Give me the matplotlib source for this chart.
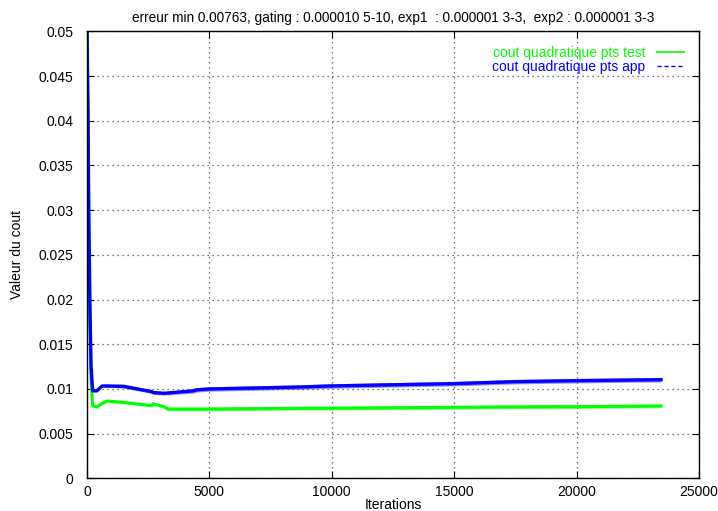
import matplotlib
matplotlib.use("Agg")
import matplotlib.pyplot as plt
from matplotlib.lines import Line2D
from matplotlib.ticker import FuncFormatter
import numpy as np

# iterations / valeurs
iters = [0, 40, 70, 120, 165, 230, 400, 620, 820, 1500, 2650, 2700, 3150, 3300,
         4370, 4450, 5000, 8700, 10000, 15000, 17500, 20000, 23450]
cout_test = [0.05, 0.040, 0.029, 0.018, 0.011, 0.0081, 0.0080, 0.0084, 0.00866, 0.0085,
             0.00813, 0.00835, 0.0080, 0.00776, 0.00776, 0.00776, 0.00776, 0.00784,
             0.00785, 0.00795, 0.00800, 0.00802, 0.0081]
cout_app = [0.05, 0.041, 0.030, 0.019, 0.0125, 0.0098, 0.0098, 0.01034, 0.01034, 0.0103,
            0.0097, 0.0096, 0.00952, 0.00955, 0.0098, 0.0099, 0.0100, 0.01022,
            0.01034, 0.0106, 0.01082, 0.01093, 0.01104]
# demi-largeur du bruit
bruit_test = [0, 0, 0, 0, 0, 0.0001, 0.00015, 0.00015, 0.00015, 0.00015, 0.0001, 0.0001,
              0.00015, 0.0002, 0.0002, 0.0002, 0.0002, 0.0002, 0.0002, 0.0002, 0.0002,
              0.0002, 0.0002]
bruit_app = [0, 0, 0, 0, 0, 0.0001, 0.00015, 0.00015, 0.00015, 0.0002, 0.0002, 0.0002,
             0.0002, 0.0002, 0.00025, 0.00025, 0.00025, 0.00025, 0.00025, 0.00025,
             0.00025, 0.00025, 0.00025]

titre = "erreur min 0.00763, gating : 0.000010 5-10, exp1  : 0.000001 3-3,  exp2 : 0.000001 3-3"

plt.rcParams['font.family'] = ['Liberation Sans', 'DejaVu Sans']
plt.rcParams['font.size'] = 10

fig = plt.figure(figsize=(7.18, 5.11), dpi=100)
ax = fig.add_axes([0.1212, 0.0638, 0.8523, 0.8748])

it = np.array(iters)
t = np.array(cout_test)
a = np.array(cout_app)
bt = np.array(bruit_test)
ba = np.array(bruit_app)

ax.fill_between(it, t - bt, t + bt, color="#00ff00", alpha=0.5, lw=0)
ax.fill_between(it, a - ba, a + ba, color="#0000ff", alpha=0.45, lw=0)
ax.plot(it, t, color="#00ff00", lw=2.2)
ax.plot(it, a, color="#0000ff", lw=2.4)

ax.set_xlim(0, 25000)
ax.set_ylim(0, 0.05)
ax.set_xticks(np.arange(0, 25001, 5000))
ax.set_yticks(np.arange(0, 0.0501, 0.005))
ax.yaxis.set_major_formatter(FuncFormatter(lambda v, p: "%g" % round(v, 4)))
ax.tick_params(direction="in", top=True, right=True, length=5, width=0.8)
ax.tick_params(axis="y", pad=10)
ax.tick_params(axis="x", pad=5)
ax.grid(True, color="0.3", linestyle=(0, (1, 3)), lw=0.9)
for s in ax.spines.values():
    s.set_linewidth(1.0)

ax.set_xlabel("Iterations", labelpad=-1)
ax.set_ylabel("Valeur du cout", labelpad=10)
ax.set_title(titre, fontsize=9.8, pad=7)

handles = [Line2D([], [], color="#00ff00", lw=1.2),
           Line2D([], [], color="#0000ff", lw=1.0, linestyle=(0, (3, 2)))]
ax.legend(handles, ["cout quadratique pts test", "cout quadratique pts app"],
          loc="upper right", bbox_to_anchor=(0.992, 0.99), frameon=False,
          markerfirst=False, labelcolor="linecolor", handlelength=2.0,
          handletextpad=0.8, labelspacing=0.0, borderpad=0.2)

fig.savefig("out.png", dpi=100)
